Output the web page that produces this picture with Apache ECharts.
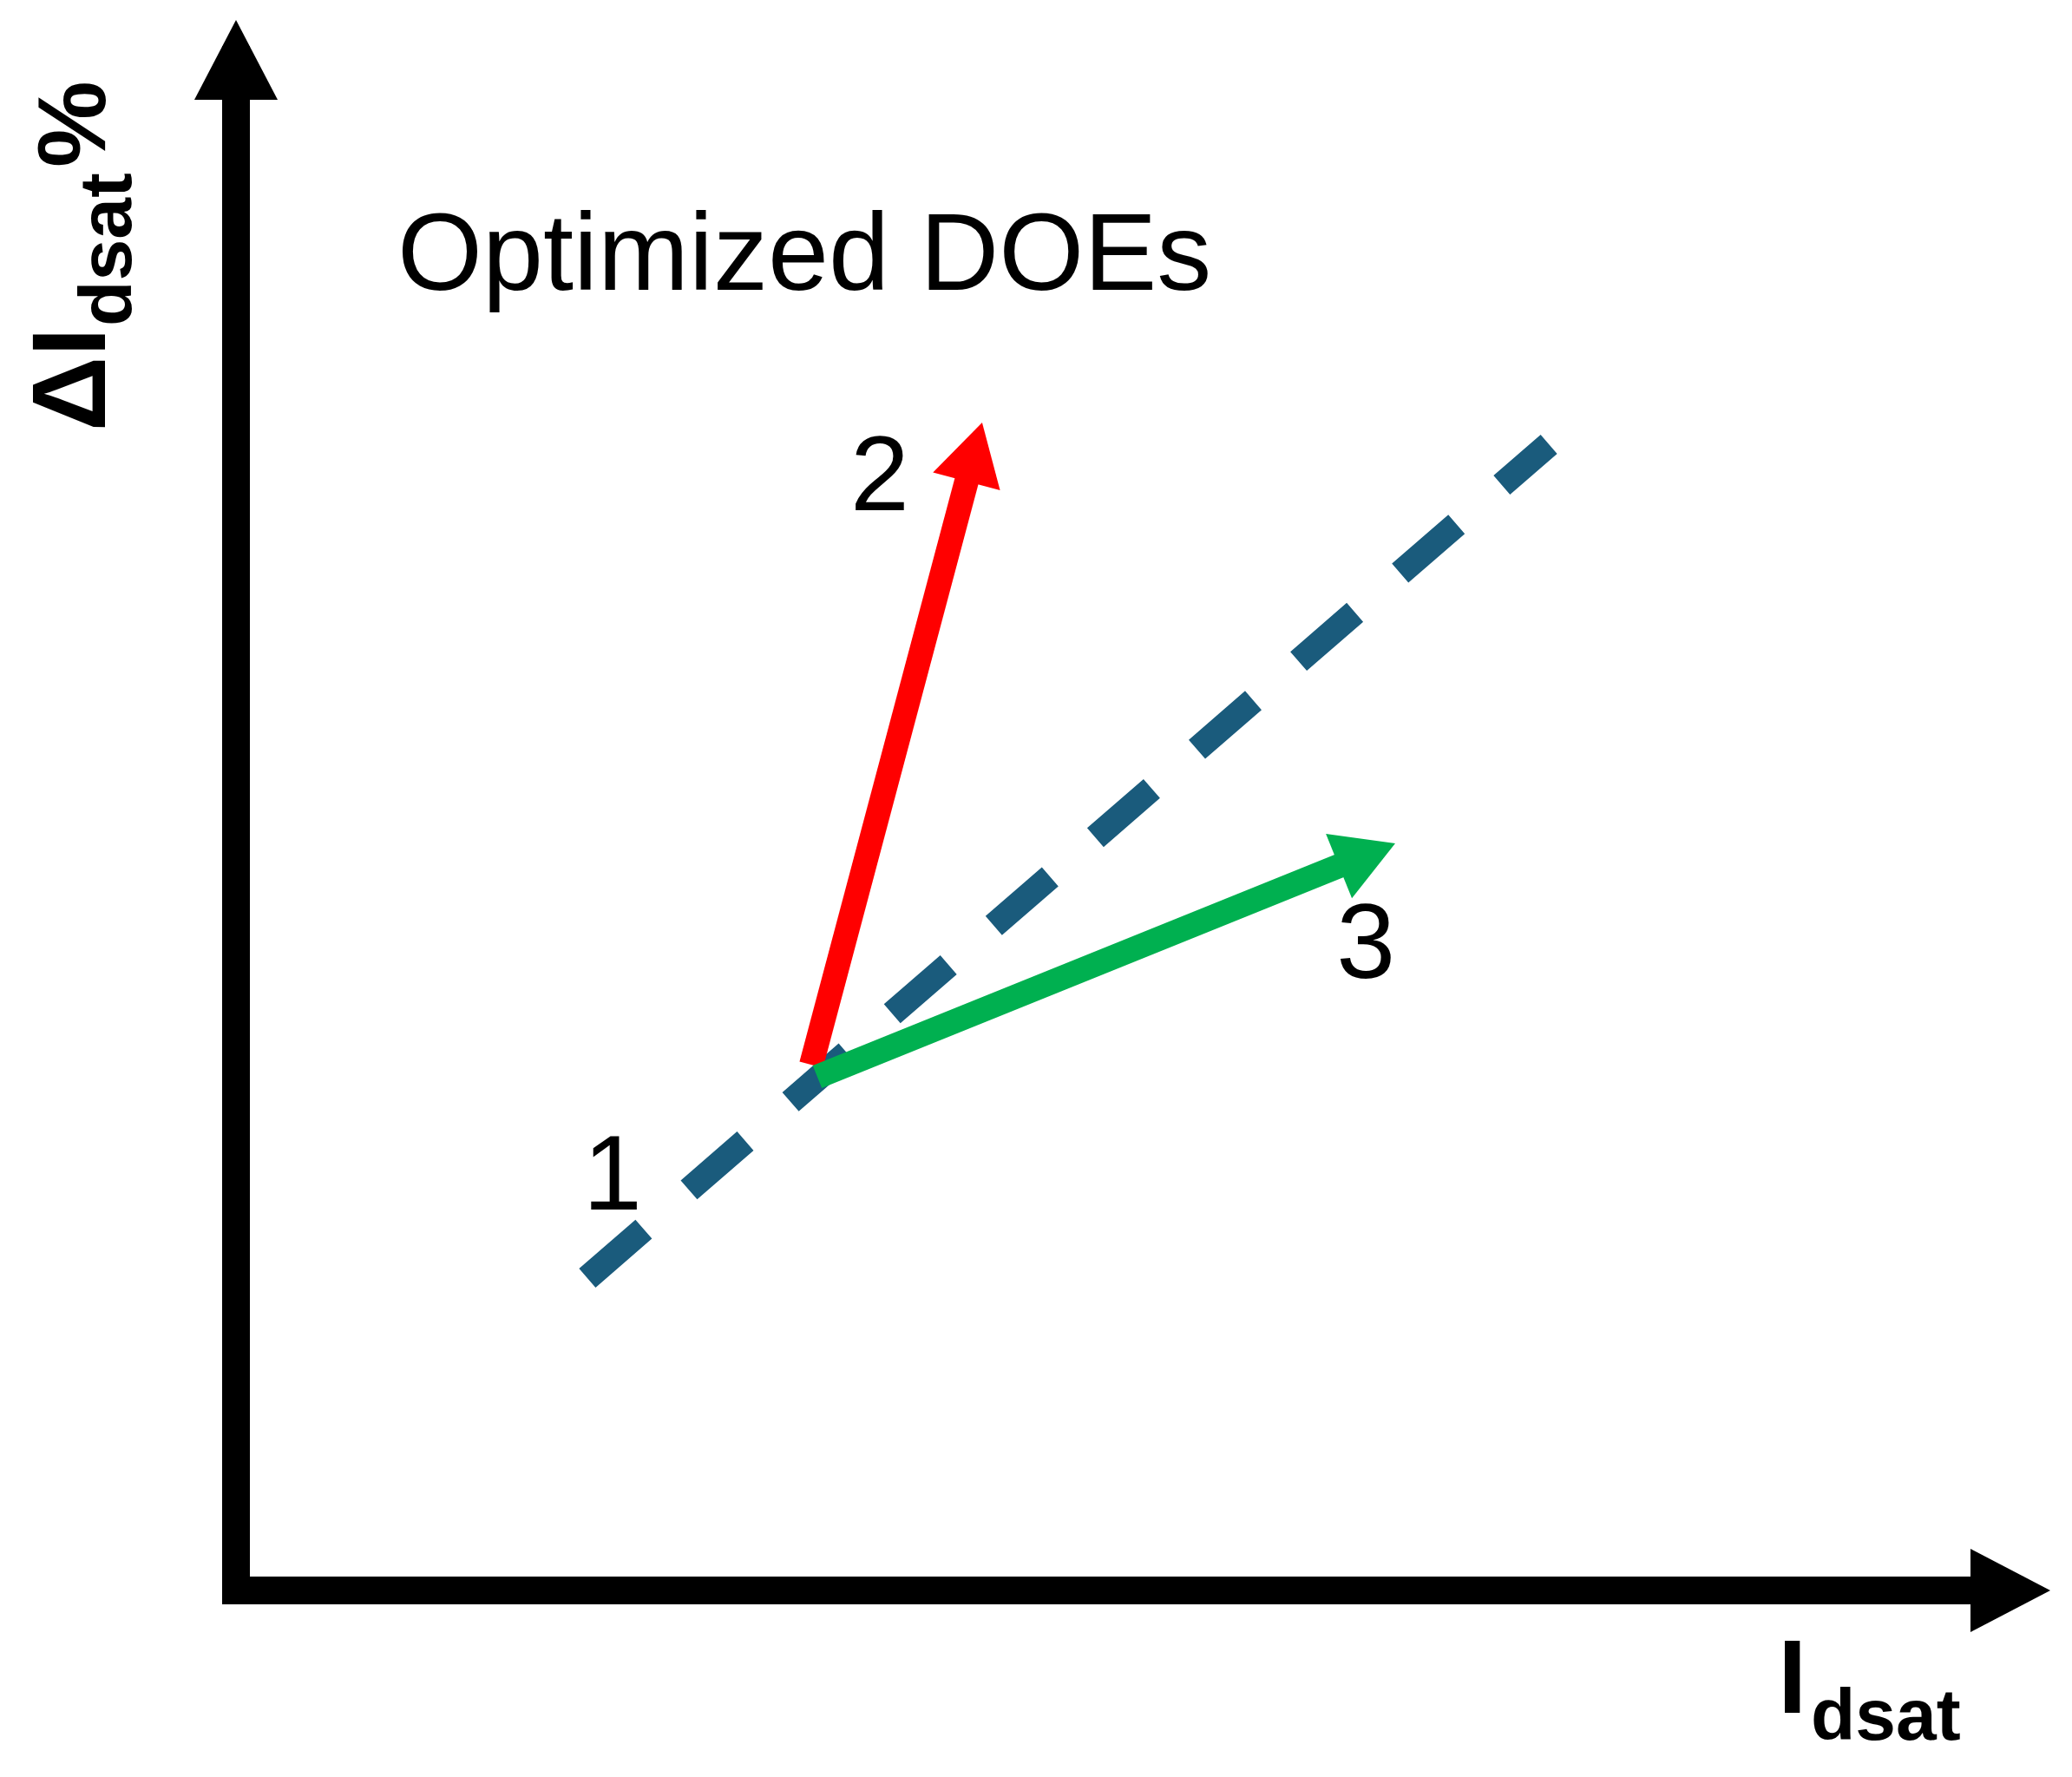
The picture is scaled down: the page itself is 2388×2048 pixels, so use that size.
<!DOCTYPE html>
<html>
<head>
<meta charset="utf-8">
<script src="https://cdn.jsdelivr.net/npm/echarts@6/dist/echarts.min.js"></script>
<style>
  html, body { margin: 0; padding: 0; background: #ffffff; }
  #chart { width: 2388px; height: 2048px; }
</style>
</head>
<body>
<div id="chart"></div>
<script>
// ---- data (axis space 0..100) ----
const trendLine = [[19.80, 20.41], [73.99, 74.89]];
const arrowNames = ['2', '3'];
const arrowFrom = [[32.42, 34.35], [32.76, 33.56]];
const arrowTo = [[42.05, 76.30], [65.33, 48.81]];
const pointLabels = ['1', '2', '3'];
const pointLabelPos = [[21.22, 26.81], [36.28, 72.51], [63.67, 41.95]];
const titleText = 'Optimized DOEs';
const xMain = 'I', xSub = 'dsat';
const yMain = 'ΔI', ySub = 'dsat', yTail = '%';

// ---- styles ----
const arrowColors = ['#ff0000', '#00b050'];
const dashColor = '#1a5b7c';
const FONT = '"Liberation Sans", Arial, sans-serif';

const chart = echarts.init(document.getElementById('chart'), null, { renderer: 'canvas' });

const arrowData = arrowFrom.map((p, i) => ({
  name: arrowNames[i],
  value: [p[0], p[1], arrowTo[i][0], arrowTo[i][1]]
}));

const axisCommon = {
  type: 'value', min: 0, max: 100,
  splitLine: { show: false }, axisTick: { show: false }, axisLabel: { show: false },
  axisLine: {
    show: true,
    symbol: ['none', 'triangle'],
    symbolSize: [96, 92],
    lineStyle: { color: '#000', width: 32, cap: 'square' }
  }
};

chart.setOption({
  animation: false,
  backgroundColor: '#ffffff',
  grid: { left: 272, right: 71, top: 69, bottom: 215, containLabel: false },
  xAxis: Object.assign({}, axisCommon),
  yAxis: Object.assign({}, axisCommon),
  graphic: [
    { type: 'text', x: 458, y: 299,
      style: { text: titleText, fontSize: 126, fontFamily: FONT, fill: '#000', align: 'left', verticalAlign: 'middle' } },
    { type: 'text', x: 2049, y: 1941,
      style: { text: xMain, fontSize: 120, fontWeight: 'bold', fontFamily: FONT, fill: '#000', align: 'left', verticalAlign: 'middle' } },
    { type: 'text', x: 2087, y: 1982,
      style: { text: xSub, fontSize: 84, fontWeight: 'bold', fontFamily: FONT, fill: '#000', align: 'left', verticalAlign: 'middle' } },
    { type: 'group', x: 125, y: 495, rotation: Math.PI / 2, children: [
      { type: 'text', x: -2, y: -37,
        style: { text: yMain, fontSize: 120, fontWeight: 'bold', fontFamily: FONT, fill: '#000', align: 'left', verticalAlign: 'middle' } },
      { type: 'text', x: 119, y: 2,
        style: { text: ySub, fontSize: 86, fontWeight: 'bold', fontFamily: FONT, fill: '#000', align: 'left', verticalAlign: 'middle' } },
      { type: 'text', x: 302, y: -35,
        style: { text: yTail, fontSize: 112, fontWeight: 'bold', fontFamily: FONT, fill: '#000', align: 'left', verticalAlign: 'middle' } }
    ]}
  ],
  series: [
    {
      type: 'line', z: 2,
      data: trendLine,
      symbol: 'none',
      lineStyle: { color: dashColor, width: 29, type: [86, 69], cap: 'butt' }
    },
    {
      type: 'custom', z: 3,
      data: arrowData,
      encode: { x: [0, 2], y: [1, 3] },
      renderItem: function (params, api) {
        const p0 = api.coord([api.value(0), api.value(1)]);
        const p1 = api.coord([api.value(2), api.value(3)]);
        const color = arrowColors[params.dataIndex];
        const dx = p1[0] - p0[0], dy = p1[1] - p0[1];
        const L = Math.hypot(dx, dy);
        const ux = dx / L, uy = dy / L, nx = -uy, ny = ux;
        const headLen = 70, headW = 80;
        const bx = p1[0] - ux * headLen, by = p1[1] - uy * headLen;
        return {
          type: 'group',
          children: [
            { type: 'line', shape: { x1: p0[0], y1: p0[1], x2: bx + ux * 3, y2: by + uy * 3 },
              style: { stroke: color, lineWidth: 28, lineCap: 'butt' } },
            { type: 'polygon', shape: { points: [[p1[0], p1[1]], [bx + nx * headW / 2, by + ny * headW / 2], [bx - nx * headW / 2, by - ny * headW / 2]] },
              style: { fill: color } }
          ]
        };
      }
    },
    {
      type: 'scatter', z: 4,
      data: pointLabelPos.map((p, i) => ({ name: pointLabels[i], value: p })),
      symbolSize: 1,
      itemStyle: { color: 'rgba(0,0,0,0)', opacity: 1 },
      label: { show: true, position: 'inside', formatter: '{b}', fontSize: 122, fontFamily: FONT, color: '#000000', opacity: 1, textBorderWidth: 0 }
    }
  ]
});
</script>
</body>
</html>
